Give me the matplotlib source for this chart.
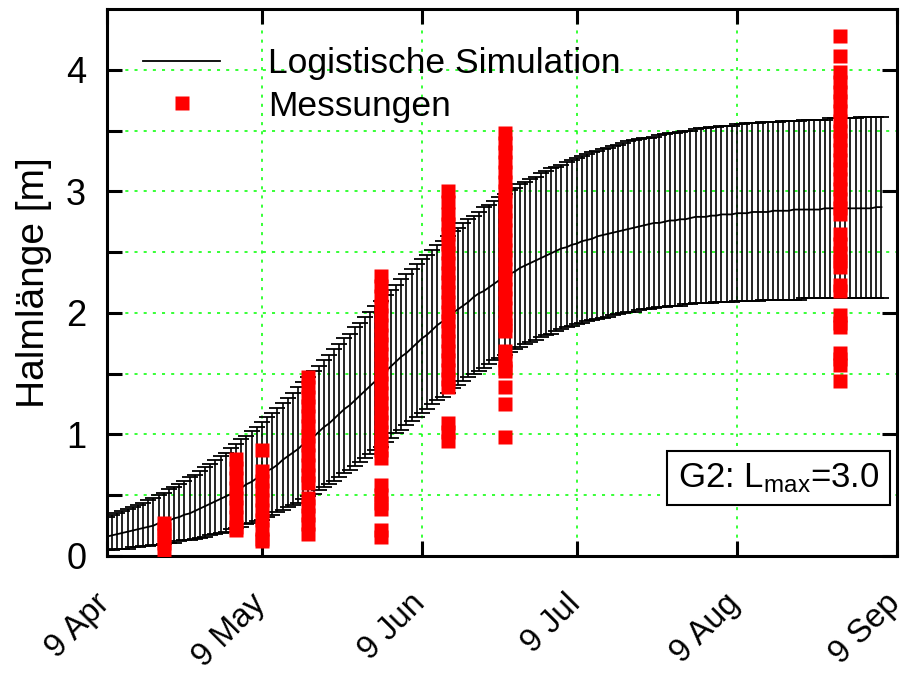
import numpy as np
import matplotlib
matplotlib.use('Agg')
import matplotlib.pyplot as plt
import matplotlib.transforms as mtransforms

plt.rcParams['font.family'] = ['Liberation Sans', 'DejaVu Sans']
plt.rcParams['mathtext.fontset'] = 'custom'
plt.rcParams['mathtext.rm'] = 'Liberation Sans'
plt.rcParams['mathtext.it'] = 'Liberation Sans:italic'

# Simulation, one value per day from 9 Apr (values in cm)
sim_start = np.datetime64('2003-04-09')
sim_mean_cm = [
    16, 17, 18, 19, 20, 21, 22, 23, 24, 25,
    27, 28, 29, 31, 32, 34, 35, 37, 39, 41,
    43, 45, 47, 49, 51, 54, 56, 59, 61, 64,
    67, 70, 72, 75, 79, 82, 85, 88, 92, 95,
    98, 102, 106, 109, 113, 117, 121, 124, 128, 132,
    136, 140, 144, 148, 152, 156, 160, 164, 167, 171,
    175, 179, 182, 186, 190, 193, 196, 200, 203, 206,
    209, 213, 216, 218, 221, 224, 227, 229, 232, 234,
    237, 239, 241, 243, 245, 247, 249, 251, 253, 254,
    256, 257, 259, 260, 261, 263, 264, 265, 266, 267,
    268, 269, 270, 271, 272, 273, 274, 274, 275, 276,
    276, 277, 277, 278, 279, 279, 279, 280, 280, 281,
    281, 281, 282, 282, 282, 283, 283, 283, 283, 284,
    284, 284, 284, 285, 285, 285, 285, 285, 285, 286,
    286, 286, 286, 286, 286, 286, 286, 286, 286, 287, 287,
]
sim_upper_cm = [
    32, 34, 35, 37, 39, 40, 42, 44, 46, 48,
    50, 52, 55, 57, 59, 62, 65, 67, 70, 73,
    76, 79, 82, 85, 89, 92, 96, 99, 103, 106,
    110, 114, 118, 122, 126, 130, 134, 139, 143, 147,
    152, 156, 161, 165, 170, 174, 179, 183, 188, 192,
    197, 201, 206, 210, 215, 219, 223, 228, 232, 236,
    240, 244, 248, 252, 256, 259, 263, 267, 270, 274,
    277, 280, 283, 287, 289, 292, 295, 298, 301, 303,
    306, 308, 310, 312, 315, 317, 319, 320, 322, 324,
    326, 327, 329, 331, 332, 333, 335, 336, 337, 338,
    340, 341, 342, 343, 344, 344, 345, 346, 347, 348,
    348, 349, 350, 350, 351, 352, 352, 353, 353, 354,
    354, 354, 355, 355, 356, 356, 356, 357, 357, 357,
    357, 358, 358, 358, 358, 359, 359, 359, 359, 359,
    360, 360, 360, 360, 360, 360, 361, 361, 361, 361, 361,
]
sim_lower_cm = [
    5, 5, 6, 6, 6, 7, 7, 8, 8, 9,
    9, 10, 11, 11, 12, 13, 13, 14, 15, 16,
    17, 18, 19, 20, 22, 23, 24, 26, 27, 29,
    30, 32, 34, 36, 38, 40, 42, 44, 47, 49,
    51, 54, 57, 59, 62, 65, 68, 71, 74, 77,
    81, 84, 87, 90, 94, 97, 101, 104, 108, 111,
    114, 118, 121, 125, 128, 131, 134, 138, 141, 144,
    147, 150, 152, 155, 158, 161, 163, 165, 168, 170,
    172, 174, 176, 178, 180, 182, 183, 185, 187, 188,
    189, 191, 192, 193, 194, 195, 196, 197, 198, 199,
    200, 201, 201, 202, 203, 203, 204, 205, 205, 206,
    206, 206, 207, 207, 208, 208, 208, 208, 209, 209,
    209, 209, 210, 210, 210, 210, 210, 211, 211, 211,
    211, 211, 211, 211, 211, 212, 212, 212, 212, 212,
    212, 212, 212, 212, 212, 212, 212, 212, 212, 212, 212,
]

# Measurements (m)
meas_dates = ['2003-04-20', '2003-05-04', '2003-05-09', '2003-05-18',
              '2003-06-01', '2003-06-14', '2003-06-25', '2003-08-29']
meas_20apr = [0.05, 0.11, 0.17, 0.22, 0.27]
meas_04may = [0.80, 0.72, 0.64, 0.56, 0.48, 0.40, 0.32, 0.24, 0.21]
meas_09may = [0.87, 0.70, 0.62, 0.54, 0.46, 0.38, 0.30, 0.22, 0.14, 0.12]
meas_18may = [1.47, 1.39, 1.31, 1.23, 1.15, 1.07, 0.99, 0.91, 0.83, 0.75,
              0.67, 0.60, 0.48, 0.41, 0.34, 0.26, 0.18]
meas_01jun = [2.30, 2.22, 2.14, 2.06, 1.98, 1.90, 1.82, 1.74, 1.66, 1.58,
              1.50, 1.42, 1.34, 1.26, 1.18, 1.10, 1.02, 0.94, 0.87, 0.81,
              0.58, 0.50, 0.44, 0.39, 0.21, 0.16]
meas_14jun = [3.00, 2.91, 2.81, 2.73, 2.65, 2.57, 2.49, 2.41, 2.33, 2.25,
              2.17, 2.09, 2.01, 1.93, 1.85, 1.77, 1.69, 1.61, 1.53, 1.46,
              1.39, 1.09, 1.02, 0.95]
meas_25jun = [3.48, 3.40, 3.32, 3.24, 3.16, 3.08, 3.00, 2.92, 2.84, 2.76,
              2.68, 2.60, 2.52, 2.44, 2.36, 2.28, 2.20, 2.12, 2.04, 1.96,
              1.90, 1.85, 1.69, 1.61, 1.55, 1.52, 1.39, 1.25, 0.98]
meas_29aug = [4.28, 4.11, 3.98, 3.90, 3.82, 3.74, 3.66, 3.58, 3.50, 3.42,
              3.34, 3.26, 3.18, 3.10, 3.02, 2.94, 2.86, 2.81, 2.65, 2.57,
              2.49, 2.43, 2.38, 2.23, 2.18, 1.98, 1.92, 1.88, 1.67, 1.62,
              1.57, 1.44]
meas_values = [meas_20apr, meas_04may, meas_09may, meas_18may,
               meas_01jun, meas_14jun, meas_25jun, meas_29aug]

tick_dates = ['2003-04-09', '2003-05-09', '2003-06-09', '2003-07-09',
              '2003-08-09', '2003-09-09']
tick_labels = ['9 Apr', '9 May', '9 Jun', '9 Jul', '9 Aug', '9 Sep']

mean = np.array(sim_mean_cm) / 100.0
upper = np.array(sim_upper_cm) / 100.0
lower = np.array(sim_lower_cm) / 100.0
days = sim_start + np.arange(len(mean))

fig = plt.figure(figsize=(9.16, 6.75), dpi=100)
ax = fig.add_axes([0.1168, 0.1763, 0.8624, 0.8104])

ax.errorbar(days, mean, yerr=[mean - lower, upper - mean], fmt='none',
            ecolor='black', elinewidth=1.2, capsize=6, capthick=1.3, zorder=3)
ax.plot(days, mean, '-', color='black', lw=1.3, zorder=4,
        label='Logistische Simulation')

for i, (d, vals) in enumerate(zip(meas_dates, meas_values)):
    ax.plot([np.datetime64(d)] * len(vals), vals, 's', color='#ff0000',
            ms=9.4, mec='none', zorder=5,
            label='Messungen' if i == 0 else None)

tick_pos = [np.datetime64(t) for t in tick_dates]
ax.set_xlim(tick_pos[0], tick_pos[-1])
ax.set_ylim(0, 4.5)
ax.set_xticks(tick_pos)
ax.set_xticklabels(tick_labels)
ax.set_yticks([0, 1, 2, 3, 4])
ax.set_yticks([0.5, 1.5, 2.5, 3.5], minor=True)

ax.grid(True, which='major', axis='x', color='#00ff00', ls=(0, (2, 4)), lw=1.1)
ax.grid(True, which='both', axis='y', color='#00ff00', ls=(0, (2, 4)), lw=1.1)
ax.set_axisbelow(True)

for s in ax.spines.values():
    s.set_linewidth(2.2)
ax.tick_params(which='major', direction='in', length=11, width=2.2,
               top=True, right=True)
ax.tick_params(which='minor', direction='in', length=11, width=2.2,
               left=True, right=False)
ax.tick_params(axis='y', labelsize=26, pad=15)
ax.tick_params(axis='x', labelsize=23.5, pad=23)
shift = mtransforms.ScaledTranslation(-9 / 72, 0, fig.dpi_scale_trans)
for lbl in ax.get_xticklabels():
    lbl.set_rotation(45)
    lbl.set_ha('right')
    lbl.set_va('top')
    lbl.set_rotation_mode('anchor')
    lbl.set_transform(lbl.get_transform() + shift)

ax.set_ylabel('Halmlänge [m]', fontsize=28, labelpad=10)

ax.legend(loc='upper left', bbox_to_anchor=(0.046, 0.93), frameon=False,
          fontsize=25.5, handlelength=2.17, handletextpad=1.35,
          labelspacing=0.27, borderpad=0, borderaxespad=0)

ax.text(0.85, 0.143, r'G2: L$_{\mathrm{max}}$=3.0', transform=ax.transAxes,
        ha='center', va='center', fontsize=25,
        bbox=dict(boxstyle='square,pad=0.3', fc='white', ec='black', lw=1.5))

fig.savefig('out.png', dpi=100)
